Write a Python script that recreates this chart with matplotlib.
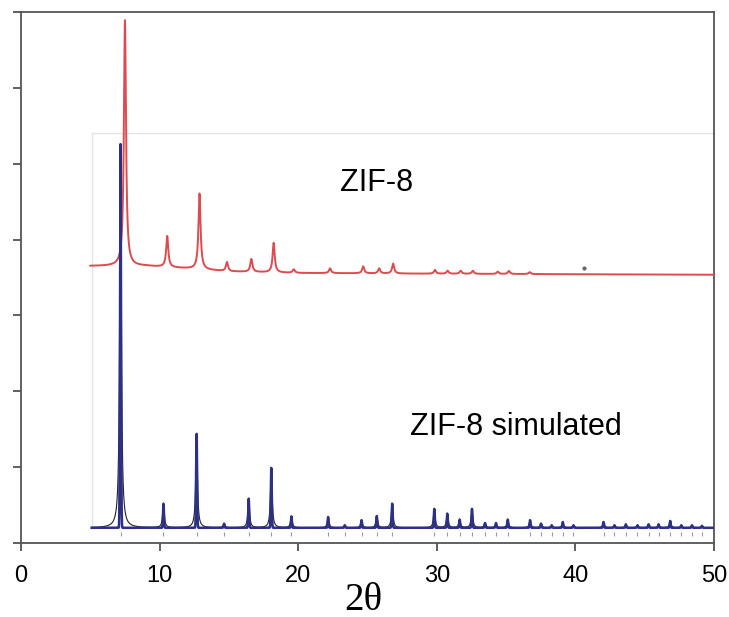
import matplotlib
matplotlib.use("Agg")
import matplotlib.pyplot as plt
import numpy as np

# measured ZIF-8 pattern: peak positions (2theta) and heights above background
zif8_pos = [7.5, 10.55, 12.88, 14.86, 16.62, 18.23, 19.68, 22.3, 24.69, 25.84,
            26.85, 29.87, 30.78, 31.72, 32.6, 34.4, 35.2, 36.7]
zif8_height = [3.24, 0.41, 1.00, 0.12, 0.17, 0.39, 0.046, 0.063, 0.092, 0.066,
               0.13, 0.05, 0.04, 0.04, 0.04, 0.03, 0.04, 0.025]
# background of the measured pattern
zif8_bg_x = [5, 9, 12, 15, 20, 30, 50]
zif8_bg_y = [3.651, 3.651, 3.618, 3.579, 3.559, 3.549, 3.536]

# simulated ZIF-8 pattern
sim_pos = [7.18, 10.28, 12.67, 14.65, 16.43, 18.06, 19.51, 22.16, 23.36, 24.57,
           25.67, 26.78, 29.82, 30.76, 31.65, 32.54, 33.48, 34.27, 35.12, 36.73,
           37.52, 38.29, 39.09, 39.86, 42.03, 42.82, 43.64, 44.48, 45.28, 46.0,
           46.84, 47.64, 48.41, 49.13]
sim_height = [5.06, 0.318, 1.24, 0.055, 0.384, 0.79, 0.15, 0.142, 0.033, 0.10,
              0.155, 0.318, 0.25, 0.187, 0.108, 0.25, 0.063, 0.063, 0.108, 0.10,
              0.055, 0.033, 0.076, 0.033, 0.076, 0.033, 0.046, 0.033, 0.046, 0.046,
              0.09, 0.033, 0.033, 0.026]
sim_base = 0.2


def lorentz(x, pos, height, hwhm):
    y = np.zeros_like(x)
    for p, h in zip(pos, height):
        y += h * hwhm**2 / ((x - p)**2 + hwhm**2)
    return y


def gauss(x, pos, height, sigma):
    y = np.zeros_like(x)
    for p, h in zip(pos, height):
        y += h * np.exp(-(x - p)**2 / (2 * sigma**2))
    return y


fig = plt.figure(figsize=(7.29, 6.17), dpi=100)
ax = fig.add_axes([0.0288, 0.12, 0.9506, 0.8606])

# light frame around the simulated pattern
ax.plot([5.1, 5.1, 50], [sim_base, 5.41, 5.41], color='#e4e4e4', lw=1, zorder=1)

x = np.linspace(5, 50, 9000)
red = np.interp(x, zif8_bg_x, zif8_bg_y) + lorentz(x, zif8_pos, zif8_height, 0.09)
ax.plot(x, red, color='#de4b4f', lw=1.4, zorder=3)
ax.plot([40.6], [3.63], 'o', color='#666666', ms=2, zorder=3)

xs = np.linspace(5.1, 49.9, 9000)
ax.plot(xs, sim_base + lorentz(xs, sim_pos, sim_height, 0.07), color='#222222', lw=0.8, zorder=2)
ax.plot(xs, sim_base + gauss(xs, sim_pos, sim_height, 0.035), color='#2c3087', lw=1.8, zorder=4)
ax.plot(sim_pos, [0.12] * len(sim_pos), '|', color='#9a9a9a', ms=3, mew=0.8)

ax.text(23.0, 4.74, 'ZIF-8', fontsize=22, family='Liberation Sans', va='center', ha='left')
ax.text(28.07, 1.53, 'ZIF-8 simulated', fontsize=22, family='Liberation Sans', va='center', ha='left')

ax.set_xlim(0, 50)
ax.set_ylim(0, 7)
ax.set_xticks(range(0, 51, 10))
ax.set_yticks(range(0, 8))
ax.set_yticklabels([])
ax.tick_params(direction='out', length=6, width=1.2, color='#444444')
ax.tick_params(axis='x', labelsize=17, pad=10)
for lab in ax.get_xticklabels():
    lab.set_family('Liberation Sans')
for s in ax.spines.values():
    s.set_color('#555555')
    s.set_linewidth(1.3)

fig.text(363 / 729, 1 - 600 / 617, '2\u03b8', fontsize=28, family='Liberation Serif',
         ha='center', va='center')

fig.savefig('out.png', dpi=100)
